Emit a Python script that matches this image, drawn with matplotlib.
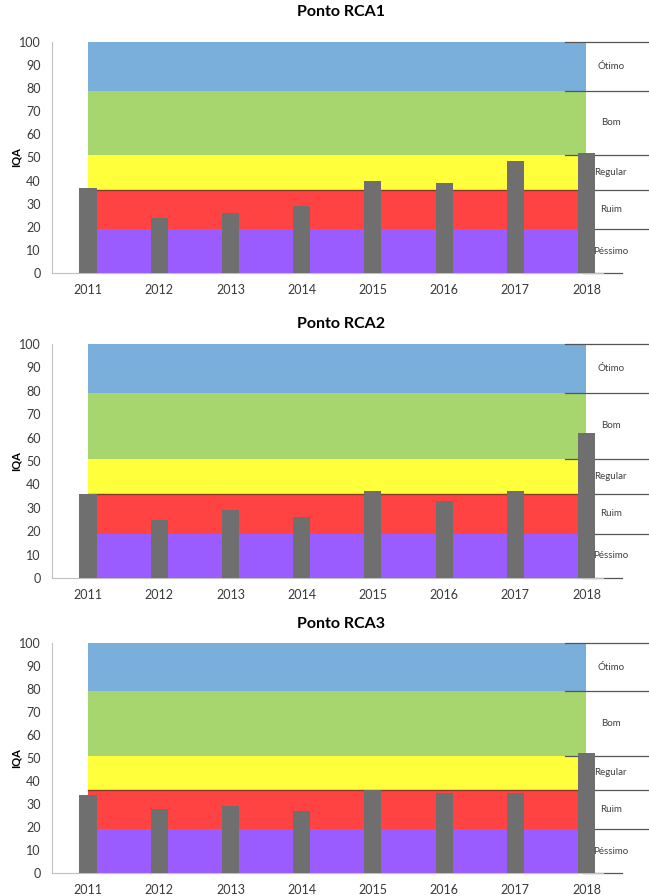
import matplotlib
matplotlib.use("Agg")
from matplotlib import pyplot as plt

# Data
years = [2011, 2012, 2013, 2014, 2015, 2016, 2017, 2018]
rca1 = [37, 24, 26, 29, 40, 39, 48.5, 52]
rca2 = [36, 25, 29, 26, 37, 33, 37, 62]
rca3 = [34, 28, 29, 27, 36, 35, 35, 52]
titles = ["Ponto RCA1", "Ponto RCA2", "Ponto RCA3"]

# IQA classes
class_names = ["Péssimo", "Ruim", "Regular", "Bom", "Ótimo"]
class_edges = [0, 19, 36, 51, 79, 100]
class_colors = ["#9a5cff", "#ff4343", "#ffff3c", "#a8d66e", "#7aafdc"]

plt.rcParams["font.family"] = ["Lato", "DejaVu Sans"]

fig = plt.figure(figsize=(6.49, 8.96), dpi=100)

# axes boxes in pixels: (top y of 100, bottom y of 0), title y
boxes = [(42, 273, 12), (344, 578, 324), (643, 873, 624)]
series = [rca1, rca2, rca3]

x_left, x_right = 2010.494, 2018.878
H = 896.0

for vals, title, (top, bot, ty) in zip(series, titles, boxes):
    ax = fig.add_axes([52 / 649, 1 - bot / H, 597 / 649, (bot - top) / H])
    ax.set_xlim(x_left, x_right)
    ax.set_ylim(0, 100)

    # coloured class bands between first and last year
    for i in range(len(class_names)):
        lo, hi = class_edges[i], class_edges[i + 1]
        ax.fill_between([years[0], years[-1]], lo, hi, color=class_colors[i],
                        linewidth=0, zorder=1)
    ax.plot([years[0], years[-1]], [36, 36], color="#8a3a2a", lw=1.0, zorder=2)

    ax.bar(years, vals, width=0.24, color="#6f6f6f", zorder=3)

    # class labels with separator lines on the right
    for i, name in enumerate(class_names):
        lo, hi = class_edges[i], class_edges[i + 1]
        ax.text(2018.34, (lo + hi) / 2, name, fontsize=7, color="#404040",
                ha="center", va="center", zorder=4, clip_on=False)
    for e in class_edges[1:]:
        start = 2017.70 if e in (51, 79, 100) else 2017.88
        ax.plot([start, 2018.95], [e, e], color="#555555", lw=0.9,
                zorder=2, clip_on=False)
    ax.plot([2017.95, 2018.5], [0, 0], color="#555555", lw=0.9, zorder=2,
            clip_on=False)

    ax.set_yticks(range(0, 101, 10))
    ax.set_xticks(years)
    ax.set_xticklabels([str(y) for y in years])
    ax.tick_params(axis="both", length=0, labelsize=9, colors="#3a3a3a")
    ax.tick_params(axis="y", pad=8)
    ax.tick_params(axis="x", pad=8)

    for s in ["top", "right"]:
        ax.spines[s].set_visible(False)
    ax.spines["left"].set_color("#c0c0c0")
    ax.spines["bottom"].set_color("#c0c0c0")
    ax.spines["bottom"].set_bounds(x_left, 2018.232)

    fig.text(16 / 649, 1 - (top + (bot - top) / 2) / H, "IQA", rotation=90,
             fontsize=8, fontweight="bold", ha="center", va="center")
    fig.text(341 / 649, 1 - ty / H, title, fontsize=11.5, fontweight="bold",
             ha="center", va="center")

fig.savefig("out.png", dpi=100, facecolor="white")
